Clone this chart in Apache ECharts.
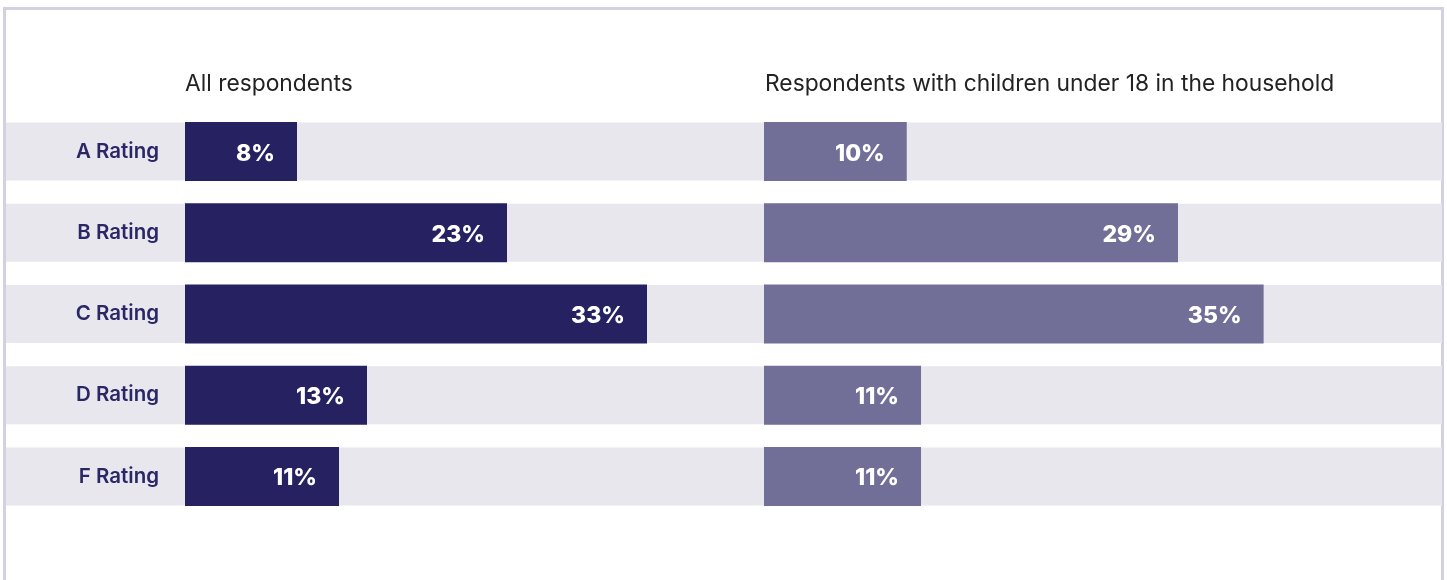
<!DOCTYPE html>
<html>
<head>
<meta charset="utf-8">
<script src="https://cdn.jsdelivr.net/npm/echarts@6/dist/echarts.min.js"></script>
<style>
  html, body { margin: 0; padding: 0; background: #ffffff; }
  #frame {
    position: absolute; left: 3px; top: 7px; width: 1441px; height: 640px;
    box-sizing: border-box; border: 3px solid #d2d1e2;
  }
  #chart { position: absolute; left: 0; top: 0; width: 1447px; height: 580px; }
</style>
</head>
<body>
<div id="frame"></div>
<div id="chart"></div>
<script>
// Ratings and shares (%) for each respondent group
const categories = ['A Rating', 'B Rating', 'C Rating', 'D Rating', 'F Rating'];
const allRespondents = [8, 23, 33, 13, 11];
const withChildren = [10, 29, 35, 11, 11];
const panelTitles = ['All respondents', 'Respondents with children under 18 in the household'];
const bandValues = categories.map(() => 1);

const BAND = '#e8e7ee';
const NAVY = '#262262';
const LAVENDER = '#716f97';

const chart = echarts.init(document.getElementById('chart'), null, { renderer: 'canvas' });

const rowTop = 111, rowHeight = 406;

const valueLabel = {
  show: true,
  position: 'insideRight',
  distance: 22,
  offset: [0, 2],
  formatter: '{c}%',
  color: '#ffffff',
  fontFamily: 'Inter',
  fontWeight: 800,
  fontSize: 23
};

const titleStyle = { fontFamily: 'Inter', fontWeight: 'normal', fontSize: 22.8, color: '#222222' };

chart.setOption({
  animation: false,
  backgroundColor: 'transparent',
  title: [
    { text: panelTitles[0], left: 185, top: 73, padding: 0, textStyle: titleStyle },
    { text: panelTitles[1], left: 765, top: 73, padding: 0, textStyle: titleStyle }
  ],
  grid: [
    { left: 6, right: 5, top: rowTop, height: rowHeight },
    { left: 185, width: 560, top: rowTop, height: rowHeight },
    { left: 764, width: 571, top: rowTop, height: rowHeight }
  ],
  xAxis: [
    { gridIndex: 0, type: 'value', min: 0, max: 1, show: false },
    { gridIndex: 1, type: 'value', min: 0, max: 40, show: false },
    { gridIndex: 2, type: 'value', min: 0, max: 40, show: false }
  ],
  yAxis: [
    { gridIndex: 0, type: 'category', data: categories, inverse: true, show: false },
    {
      gridIndex: 1, type: 'category', data: categories, inverse: true, z: 5,
      axisLine: { show: false }, axisTick: { show: false },
      axisLabel: {
        margin: 26, padding: [5, 0, 0, 0], color: '#2b2766',
        fontFamily: 'Inter', fontWeight: 600, fontSize: 20.5
      }
    },
    { gridIndex: 2, type: 'category', data: categories, inverse: true, show: false }
  ],
  series: [
    {
      type: 'bar', xAxisIndex: 0, yAxisIndex: 0, data: bandValues,
      barWidth: 58, silent: true, z: 1,
      itemStyle: { color: BAND }
    },
    {
      name: panelTitles[0], type: 'bar', xAxisIndex: 1, yAxisIndex: 1,
      data: allRespondents, barWidth: 59, z: 2,
      itemStyle: { color: NAVY }, label: valueLabel
    },
    {
      name: panelTitles[1], type: 'bar', xAxisIndex: 2, yAxisIndex: 2,
      data: withChildren, barWidth: 59, z: 2,
      itemStyle: { color: LAVENDER }, label: valueLabel
    }
  ]
});
</script>
</body>
</html>
